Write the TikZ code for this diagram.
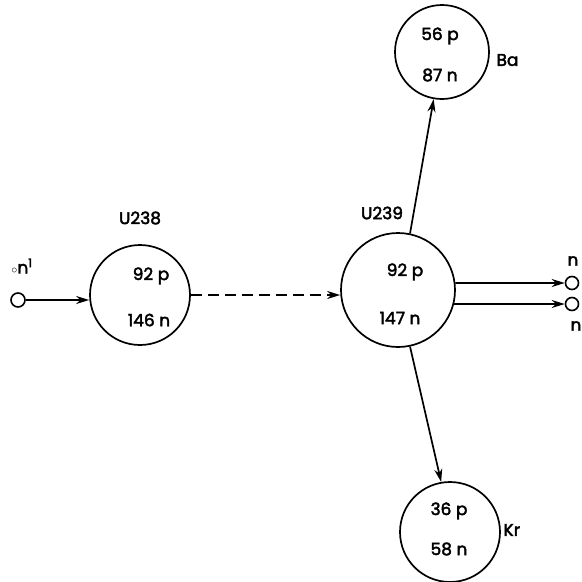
\documentclass[tikz,border=0pt]{standalone}
\usepackage{fontspec}
\setmainfont[FakeBold=1.5,AutoFakeBold=2.5]{Poppins}
\usetikzlibrary{arrows.meta}
\begin{document}
\begin{tikzpicture}[x=1pt,y=-1pt,
  nuc/.style={circle,draw,line width=1.7pt,inner sep=0pt},
  small/.style={circle,draw,line width=1.6pt,inner sep=0pt,minimum size=14pt},
  lbl/.style={font=\fontsize{17}{19}\selectfont\bfseries},
  arr/.style={-{Stealth[length=13pt,width=8pt]},line width=1.7pt}]
\useasboundingbox (0,0) rectangle (582,582);
% nuclei
\node[nuc,minimum size=100pt] (u238) at (140,295) {};
\node[nuc,minimum size=114pt] (u239) at (398,290) {};
\node[nuc,minimum size=94pt] (ba) at (442,52) {};
\node[nuc,minimum size=100pt] (kr) at (450,532) {};
% texts
\node[lbl] (u238t) at (140,218) {U238};
\node[lbl] (u238p) at (151,276) {92 p};
\node[lbl] (u238n) at (149,320) {146 n};
\node[lbl] (u239t) at (382,213) {U239};
\node[lbl] (u239p) at (405,272) {92 p};
\node[lbl] (u239n) at (400,318) {147 n};
\node[lbl] (bap) at (440,36) {56 p};
\node[lbl] (ban) at (440,75) {87 n};
\node[lbl,anchor=west] (bal) at (493,60) {Ba};
\node[lbl] (krp) at (449,511) {36 p};
\node[lbl] (krn) at (449,549) {58 n};
\node[lbl,anchor=west] (krl) at (500,530) {Kr};
% neutrons
\node[small] (n0) at (18,300) {};
\node[lbl] (n0l) at (22,266) {$\scriptstyle\circ$n\textsuperscript{1}};
\node[small,minimum size=13pt] (n1) at (572,283) {};
\node[small,minimum size=13pt] (n2) at (572,304) {};
\node[lbl] (n1l) at (573,261) {n};
\node[lbl] (n2l) at (576,326) {n};
% arrows
\draw[arr] (n0.east) -- (n0.east -| u238.west);
\draw[arr,dash pattern=on 11pt off 6pt] (u238.east) -- (u238.east -| u239.west);
\draw[arr] (u239.78) -- (ba.-100);
\draw[arr] (u239.-78) -- (kr.100);
\draw[arr] (u239.7) -- (n1.west);
\draw[arr] (u239.-14) -- (n2.west);
\end{tikzpicture}
\end{document}
